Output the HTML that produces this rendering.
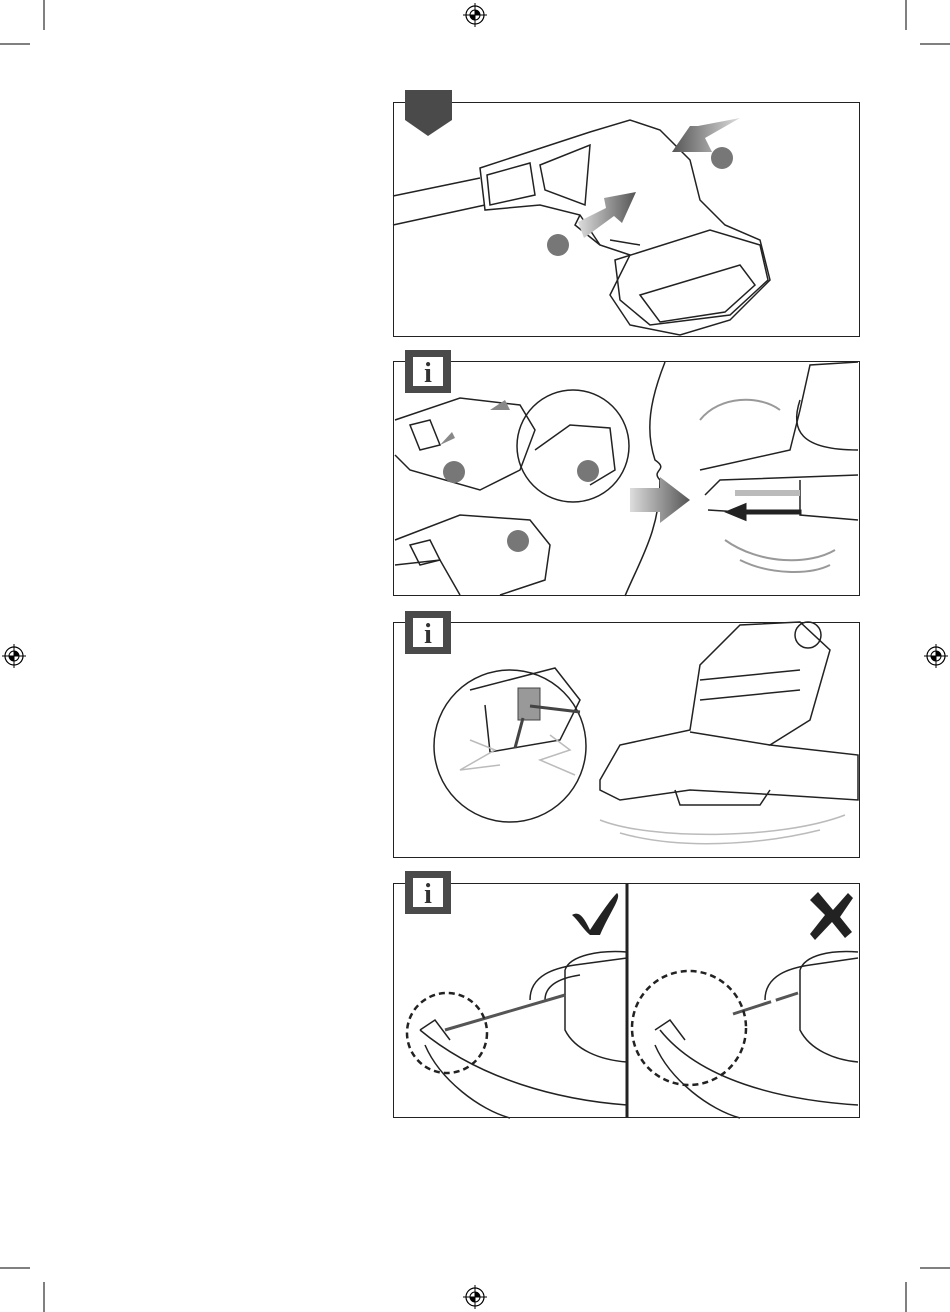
<!DOCTYPE html>
<html><head><meta charset="utf-8"><style>
html,body{margin:0;padding:0;background:#fff;}
svg{display:block}
</style></head><body>
<svg width="950" height="1312" viewBox="0 0 950 1312" xmlns="http://www.w3.org/2000/svg" font-family="Liberation Serif, serif">
<defs>
<linearGradient id="ga" x1="0" y1="0" x2="1" y2="0"><stop offset="0" stop-color="#ddd"/><stop offset="1" stop-color="#555"/></linearGradient>
<linearGradient id="gb" x1="1" y1="0" x2="0" y2="0"><stop offset="0" stop-color="#ddd"/><stop offset="1" stop-color="#555"/></linearGradient>
<g id="reg"><circle r="9" fill="none" stroke="#000" stroke-width="1.2"/><circle r="5" fill="none" stroke="#000" stroke-width="1"/><line x1="-12" y1="0" x2="12" y2="0" stroke="#000"/><line x1="0" y1="-12" x2="0" y2="12" stroke="#000"/><path d="M0,0 L0,-5 A5,5 0 0 1 5,0Z M0,0 L0,5 A5,5 0 0 1 -5,0Z" fill="#000"/></g>
<g id="ibox"><rect width="46" height="43" fill="#4a4a4a"/><rect x="8" y="7" width="30" height="29" fill="#fff"/><text x="23" y="32" font-size="28" font-weight="bold" text-anchor="middle" fill="#333">i</text></g>
</defs>
<!-- crop marks -->
<g stroke="#000" stroke-width="1">
<line x1="44" y1="0" x2="44" y2="30"/><line x1="0" y1="44" x2="30" y2="44"/>
<line x1="906" y1="0" x2="906" y2="30"/><line x1="920" y1="44" x2="950" y2="44"/>
<line x1="44" y1="1282" x2="44" y2="1312"/><line x1="0" y1="1268" x2="30" y2="1268"/>
<line x1="906" y1="1282" x2="906" y2="1312"/><line x1="920" y1="1268" x2="950" y2="1268"/>
</g>
<use href="#reg" x="475" y="15"/><use href="#reg" x="475" y="1297"/><use href="#reg" x="14" y="656"/><use href="#reg" x="936" y="656"/>

<!-- Panel 1 -->
<rect x="393.5" y="102.5" width="466" height="234" fill="none" stroke="#222"/>
<path d="M405,90 H452 V120 L428,136 L405,120Z" fill="#4a4a4a"/>
<g fill="none" stroke="#222" stroke-width="1.5">
<path d="M393,196 L480,178 M393,225 L485,205"/>
<path d="M480,168 L590,132 L630,120 L660,130 L690,160 L700,200 L725,225 L760,240 L770,280 L730,320 L680,335 L630,325 L610,295 L630,255 L600,245 L580,215 L540,205 L485,210 Z"/>
<path d="M487,175 L530,163 L535,195 L490,205Z M540,165 L590,145 L585,205 L545,190Z"/>
<path d="M615,260 L710,230 L760,245 L768,280 L730,315 L650,325 L620,300Z"/>
<path d="M640,295 L740,265 L755,285 L725,312 L660,322Z"/>
<path d="M600,245 L575,225 L580,215 M610,240 L640,245"/>
</g>
<path d="M690,130 L742,117 L735,97 L700,128Z" fill="none"/>
<polygon points="740,118 705,138 712,152 672,152 690,126 698,126" fill="url(#gb)"/>
<path d="M578,222 L606,208 L604,198 L636,192 L622,223 L614,216 L584,238Z" fill="url(#ga)"/>
<circle cx="722" cy="158" r="11" fill="#777"/>
<circle cx="558" cy="245" r="11" fill="#777"/>

<!-- Panel 2 -->
<rect x="393.5" y="361.5" width="466" height="234" fill="none" stroke="#222"/>
<use href="#ibox" x="405" y="350"/>
<g fill="none" stroke="#222" stroke-width="1.5">
<path d="M395,420 L460,398 L520,405 L535,430 L520,470 L480,490 L410,470 L395,455"/>
<path d="M410,425 L430,420 L440,445 L420,450Z"/>
<path d="M395,540 L460,515 L530,520 L550,545 L545,580 L500,595 M395,565 L440,560 L460,595"/>
<path d="M410,545 L430,540 L440,560 L420,565Z"/>
<circle cx="573" cy="446" r="56"/>
<path d="M535,450 L570,425 L610,428 L615,470 L590,485"/>
<path d="M665,362 C650,400 645,430 655,460 C670,470 650,470 660,480 C660,530 640,560 625,596"/>
<path d="M700,470 L790,450 L800,410 L810,365 L858,362 M705,495 L720,480 L858,475 M708,510 L740,512 M800,480 L800,515 L858,520"/>
<path d="M800,400 C790,430 800,450 858,450"/>
</g>
<g fill="none" stroke="#999" stroke-width="2">
<path d="M700,420 C720,395 760,395 780,410"/><path d="M725,540 C760,565 810,565 835,550"/><path d="M740,560 C770,575 810,575 830,565"/>
</g>
<polygon points="630,488 660,488 660,477 690,500 660,523 660,512 630,512" fill="url(#ga)"/>
<path d="M800,511 H745 V505 L728,512 L745,519 V513 H800Z" fill="#222" stroke="#222" stroke-width="3"/>
<rect x="735" y="490" width="65" height="6" fill="#bbb"/>
<circle cx="454" cy="472" r="11" fill="#777"/><circle cx="588" cy="471" r="11" fill="#777"/><circle cx="518" cy="541" r="11" fill="#777"/>
<polygon points="440,445 455,438 452,432" fill="#888"/><polygon points="490,410 505,400 510,410" fill="#888"/>

<!-- Panel 3 -->
<rect x="393.5" y="622.5" width="466" height="235" fill="none" stroke="#222"/>
<use href="#ibox" x="405" y="611"/>
<g fill="none" stroke="#222" stroke-width="1.5">
<circle cx="510" cy="746" r="76"/>
<path d="M470,690 L555,668 L580,700 L560,740 L490,752 L485,705"/>
<path d="M600,780 L620,745 L690,730 L700,665 L740,625 L800,622 L830,650 L810,720 L770,745 L858,755 L858,800 L780,795 L690,790 L620,800 L600,790Z"/>
<path d="M690,732 L770,745 M700,700 L800,690 M700,680 L800,670"/>
<path d="M675,790 L680,805 L760,805 L770,790"/>
<circle cx="808" cy="635" r="13"/>
</g>
<rect x="518" y="688" width="22" height="32" fill="#999" stroke="#444"/>
<path d="M530,706 L580,712 M523,718 L515,748" stroke="#444" stroke-width="3" fill="none"/>
<g fill="none" stroke="#bbb" stroke-width="1.5">
<path d="M470,740 L495,750 L460,770 L500,765 M550,735 L570,750 L540,760 L575,775"/>
<path d="M600,820 C650,840 780,840 845,815 M620,833 C680,850 760,845 820,830"/>
</g>

<!-- Panel 4 -->
<rect x="393.5" y="883.5" width="466" height="234" fill="none" stroke="#222"/>
<line x1="627" y1="883" x2="627" y2="1118" stroke="#222" stroke-width="3"/>
<use href="#ibox" x="405" y="871"/>
<path d="M572,915 C580,910 585,920 590,930 C600,915 610,900 617,893 C622,897 610,912 600,935 L590,935 C582,928 578,920 572,915Z" fill="#222"/>
<path d="M810,900 L818,892 L833,910 L848,893 L853,898 L840,917 L852,932 L845,938 L832,922 L815,940 L810,934 L825,915Z" fill="#222"/>
<g fill="none" stroke="#222" stroke-width="1.5">
<path d="M420,1030 C480,1080 560,1100 627,1105 M425,1045 C440,1080 480,1110 510,1118"/>
<path d="M420,1030 L435,1020 L450,1040"/>
<path d="M530,1000 C530,975 555,968 575,965 L627,958 M545,1000 C545,985 560,978 580,975"/>
<path d="M565,970 C570,955 600,950 627,952 M565,970 L565,1030 C575,1050 600,1060 627,1062"/>
<path d="M660,1030 C700,1080 780,1100 858,1105 M655,1045 C670,1080 710,1110 740,1118"/>
<path d="M655,1030 L670,1020 L685,1040"/>
<path d="M765,1000 C765,975 790,968 810,965 L858,958"/>
<path d="M800,970 C805,955 830,950 858,952 M800,970 L800,1030 C810,1050 835,1060 858,1062"/>
</g>
<line x1="445" y1="1030" x2="565" y2="995" stroke="#555" stroke-width="3"/>
<line x1="733" y1="1014" x2="798" y2="993" stroke="#555" stroke-width="3" stroke-dasharray="40,5"/>
<circle cx="447" cy="1033" r="40" fill="none" stroke="#222" stroke-width="2.5" stroke-dasharray="6,4"/>
<circle cx="689" cy="1028" r="57" fill="none" stroke="#222" stroke-width="2.5" stroke-dasharray="6,4"/>
</svg>
</body></html>
